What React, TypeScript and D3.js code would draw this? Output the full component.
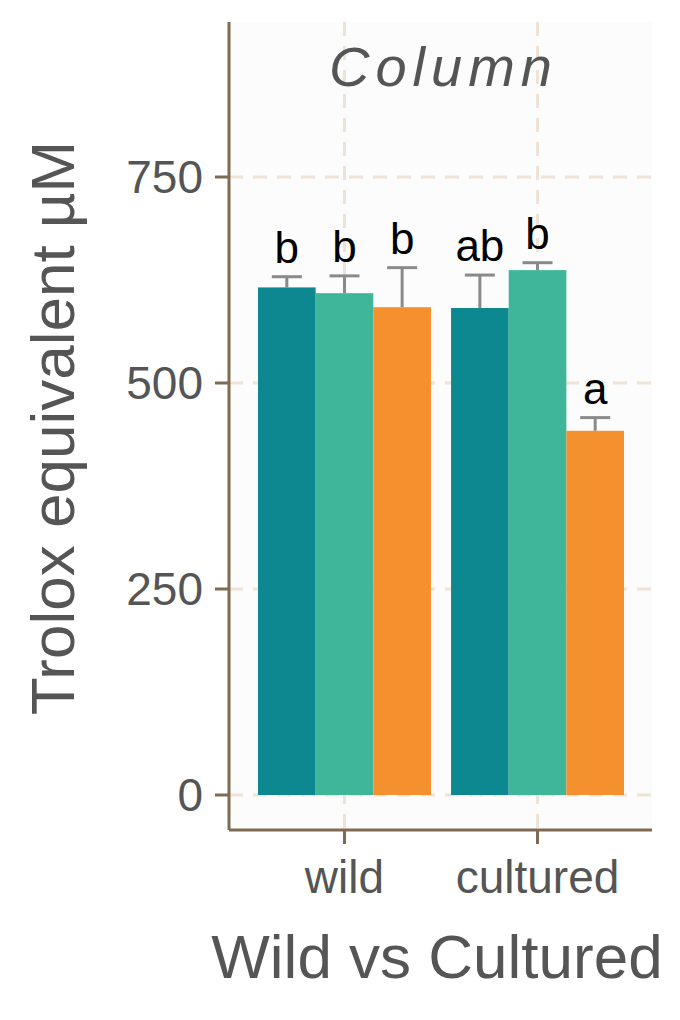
import * as d3 from 'd3';

const groups = ['wild', 'cultured'];
const series = ['s1', 's2', 's3'];
const colors = ['#0e8890', '#3fb59a', '#f5902e'];
// [group][series]
const means = [
  [616, 609, 592],
  [591, 637, 442],
];
const errTops = [
  [629, 630, 640],
  [631, 646, 458],
];
const letters = [
  ['b', 'b', 'b'],
  ['ab', 'b', 'a'],
];
const yTicks = [0, 250, 500, 750];

export default function App() {
  const W = 680, H = 1020;
  const left = 229, right = 652, top = 22, bottom = 830;
  const y = d3.scaleLinear().domain([0, 750]).range([795, 177]);
  const x = d3.scaleBand().domain(groups).range([258, 624]).paddingInner(0.104);
  const xs = d3.scaleBand().domain(series).range([0, x.bandwidth()]);
  const axisCol = '#7f6a52';
  const grid = '#efe3d6';
  const textCol = '#555555';
  const font = 'Arial, "Liberation Sans", sans-serif';

  return (
    <div style={{ position: 'absolute', left: 0, top: 0 }}>
      <svg width={W} height={H} style={{ display: 'block', background: '#fff' }} fontFamily={font}>
        <rect x={left} y={top} width={right - left} height={bottom - top} fill="#fcfcfc" />
        {yTicks.map(t => (
          <line key={t} x1={left} x2={right} y1={y(t)} y2={y(t)} stroke={grid} strokeWidth={3} strokeDasharray="14,10" />
        ))}
        {groups.map(g => (
          <line key={g} x1={x(g)! + x.bandwidth() / 2} x2={x(g)! + x.bandwidth() / 2} y1={top} y2={bottom}
            stroke={grid} strokeWidth={3} strokeDasharray="14,10" />
        ))}
        {groups.map((g, gi) => series.map((s, si) => {
          const bx = x(g)! + xs(s)!;
          const cx = bx + xs.bandwidth() / 2;
          return (
            <g key={g + s}>
              <line x1={cx} x2={cx} y1={y(errTops[gi][si])} y2={y(means[gi][si])} stroke="#8a8a8a" strokeWidth={3} />
              <line x1={cx - 15} x2={cx + 15} y1={y(errTops[gi][si])} y2={y(errTops[gi][si])} stroke="#8a8a8a" strokeWidth={3} />
              <rect x={bx} y={y(means[gi][si])} width={xs.bandwidth()} height={y(0) - y(means[gi][si])} fill={colors[si]} />
              <text x={cx} y={y(errTops[gi][si]) - 14} textAnchor="middle" fontSize={44} fill="#000">{letters[gi][si]}</text>
            </g>
          );
        }))}
        <text x={(left + right) / 2 + 3} y={86} textAnchor="middle" fontSize={56} fontStyle="italic" letterSpacing={6} fill={textCol}>Column</text>
        <line x1={left} x2={left} y1={top} y2={bottom} stroke={axisCol} strokeWidth={3} />
        <line x1={left} x2={right} y1={bottom} y2={bottom} stroke={axisCol} strokeWidth={3} />
        {yTicks.map(t => (
          <g key={t}>
            <line x1={left - 14} x2={left} y1={y(t)} y2={y(t)} stroke={axisCol} strokeWidth={3} />
            <text x={left - 26} y={y(t) + 16} textAnchor="end" fontSize={46} fill={textCol}>{t}</text>
          </g>
        ))}
        {groups.map(g => {
          const cx = x(g)! + x.bandwidth() / 2;
          return (
            <g key={g}>
              <line x1={cx} x2={cx} y1={bottom} y2={bottom + 14} stroke={axisCol} strokeWidth={3} />
              <text x={cx} y={893} textAnchor="middle" fontSize={46} fill={textCol}>{g}</text>
            </g>
          );
        })}
        <text x={437} y={978} textAnchor="middle" fontSize={62} fill={textCol}>Wild vs Cultured</text>
        <text transform="translate(74,428) rotate(-90)" textAnchor="middle" fontSize={62} fill={textCol}>Trolox equivalent µM</text>
      </svg>
    </div>
  );
}
